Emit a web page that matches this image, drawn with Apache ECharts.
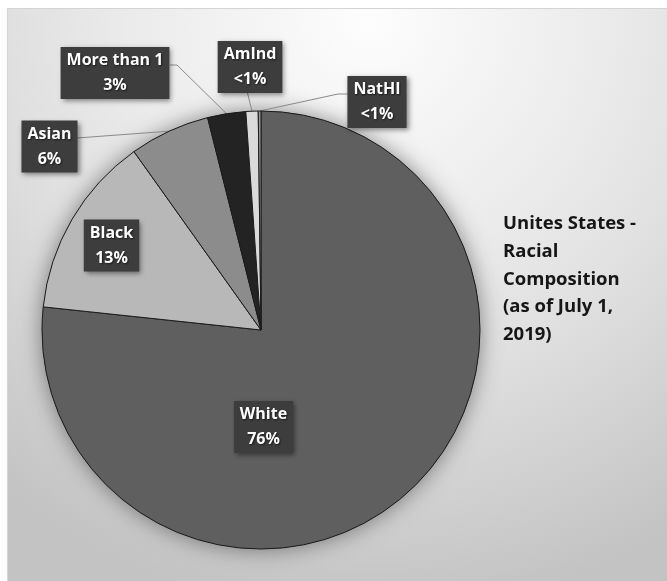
<!DOCTYPE html>
<html>
<head>
<meta charset="utf-8">
<script src="https://cdn.jsdelivr.net/npm/echarts@6/dist/echarts.min.js"></script>
<style>
  html, body { margin: 0; padding: 0; background: #ffffff; }
  #chart { width: 667px; height: 581px; }
</style>
</head>
<body>
<div id="chart"></div>
<script>
// Share of the U.S. population by race, July 1, 2019 (percent)
const groups = ['White', 'Black', 'Asian', 'More than 1', 'AmInd', 'NatHI'];
const shares = [76.3, 13.4, 5.9, 2.8, 0.9, 0.2];
const titleLines = ['Unites States -', 'Racial', 'Composition', '(as of July 1,', '2019)'];

// Slice fills, in the same order as the groups
const sliceColors = ['#5f5f5f', '#b8b8b8', '#8c8c8c', '#232323', '#dadada', '#979797'];

// Label box centres; `anchor` is where the guide line meets the box
// (offset from the centre), `elbow` an optional bend point.
const labelSpots = [
  { x: 263.5, y: 427 },
  { x: 111.5, y: 245.5 },
  { x: 49.5, y: 146.5, anchor: [27.5, -8.5] },
  { x: 115, y: 73, anchor: [55, -8], elbow: [177, 65] },
  { x: 250, y: 67, anchor: [-2.5, 26] },
  { x: 377, y: 102, anchor: [-28, -8], elbow: [338, 94] }
];
const insideCount = 2;

const fmtShare = v => (v < 1 ? '<1%' : Math.round(v) + '%');
const total = shares.reduce((a, b) => a + b, 0);

const chart = echarts.init(document.getElementById('chart'), null, { renderer: 'canvas' });

const pieData = groups.map((name, i) => ({
  name,
  value: shares[i],
  itemStyle: { color: sliceColors[i] },
  labelLine: { show: i >= insideCount }
}));

const option = {
  backgroundColor: '#ffffff',
  animation: false,
  graphic: [{
    type: 'rect',
    z: -1,
    silent: true,
    shape: { x: 7.5, y: 8.5, width: 680, height: 590 },
    style: {
      fill: {
        type: 'radial', x: 0.53, y: 0.02, r: 1.0,
        colorStops: [
          { offset: 0, color: '#fdfdfd' },
          { offset: 0.4, color: '#ebebeb' },
          { offset: 0.6, color: '#e0e0e0' },
          { offset: 0.85, color: '#cecece' },
          { offset: 1, color: '#c3c3c3' }
        ]
      },
      stroke: '#d4d4d4',
      lineWidth: 1
    }
  }],
  title: {
    text: titleLines.join('\n'),
    left: 503,
    top: 210,
    padding: 0,
    textStyle: {
      fontFamily: 'Open Sans',
      fontWeight: 'bold',
      fontSize: 18.5,
      lineHeight: 27.7,
      color: '#161616'
    }
  },
  series: [
    {
      // soft outer shadow under the whole pie
      type: 'pie',
      silent: true,
      z: 1,
      center: [261, 330],
      radius: 219,
      label: { show: false },
      labelLine: { show: false },
      itemStyle: {
        color: '#5f5f5f',
        shadowBlur: 22,
        shadowColor: 'rgba(0,0,0,0.45)'
      },
      data: [{ name: 'all', value: total }]
    },
    {
      type: 'pie',
      z: 2,
      center: [261, 330],
      radius: 219,
      startAngle: 90,
      clockwise: true,
      avoidLabelOverlap: false,
      itemStyle: { borderColor: '#1b1b1b', borderWidth: 1 },
      label: {
        show: true,
        position: 'outside',
        formatter: p => p.name + '\n' + fmtShare(p.value),
        color: '#ffffff',
        fontFamily: 'Open Sans',
        fontWeight: 'bold',
        fontSize: 16,
        lineHeight: 25,
        align: 'center',
        backgroundColor: '#3d3d3d',
        padding: [1, 6, 1, 6],
        shadowColor: 'rgba(0,0,0,0.45)',
        shadowBlur: 5,
        shadowOffsetX: 2,
        shadowOffsetY: 2,
        textShadowColor: 'rgba(0,0,0,0.6)',
        textShadowBlur: 2,
        textShadowOffsetX: 1,
        textShadowOffsetY: 1
      },
      labelLine: {
        show: true,
        smooth: false,
        lineStyle: { color: '#8a8a8a', width: 1 }
      },
      labelLayout: params => {
        const spot = labelSpots[params.dataIndex];
        const out = { x: spot.x, y: spot.y, align: 'center', verticalAlign: 'middle' };
        if (spot.anchor && params.labelLinePoints) {
          const start = params.labelLinePoints[0];
          const end = [spot.x + spot.anchor[0], spot.y + spot.anchor[1]];
          const mid = spot.elbow || [(start[0] + end[0]) / 2, (start[1] + end[1]) / 2];
          out.labelLinePoints = [start, mid, end];
        }
        return out;
      },
      data: pieData
    }
  ]
};

chart.setOption(option);
</script>
</body>
</html>
